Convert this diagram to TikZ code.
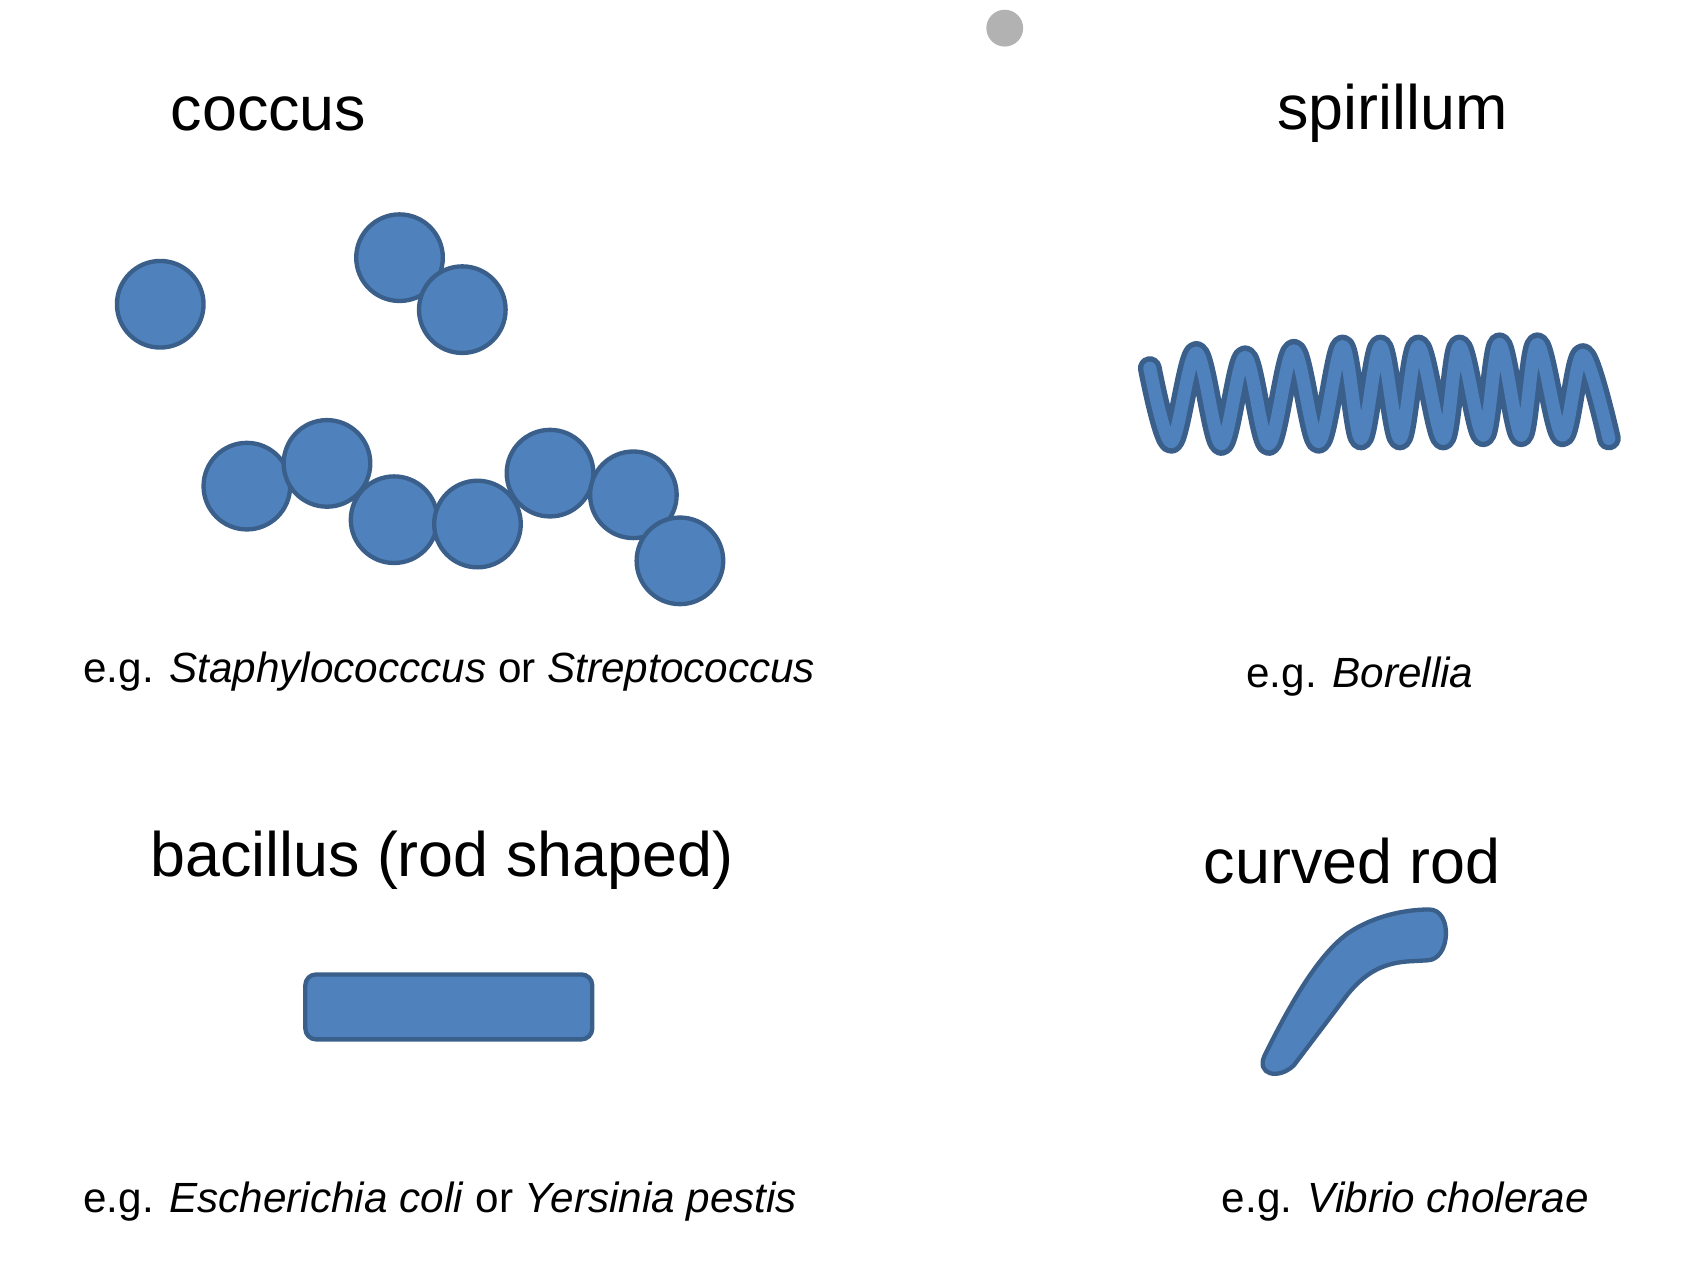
\documentclass[tikz,border=0pt]{standalone}
\usepackage{fontspec}
\setmainfont{Liberation Sans}
\definecolor{cfill}{HTML}{4F81BD}
\definecolor{cline}{HTML}{3A5F8B}
\begin{document}
\begin{tikzpicture}[x=0.5pt,y=-0.5pt,
  cell/.style={circle,draw=cline,fill=cfill,line width=2pt,minimum size=40pt,inner sep=0pt},
  title/.style={font=\fontsize{29}{34}\selectfont},
  captext/.style={font=\fontsize{19.5}{24}\selectfont},
  body/.style={draw=cline,fill=cfill,line width=2pt,line join=round}]
\useasboundingbox (0,0) rectangle (1560,1189);
\fill[gray!60] (928,26) circle (17);
\node[title] (t1) at (248,105) {coccus};
\node[title] (t2) at (1286,105) {spirillum};
\node[title] (t3) at (408,795) {bacillus (rod shaped)};
\node[title] (t4) at (1249,795) {curved rod};
\node[captext,anchor=west] (c1) at (70,620) {e.g. \textit{Staphylococccus} or \textit{Streptococcus}};
\node[captext] (c2) at (1256,625) {e.g. \textit{Borellia}};
\node[captext,anchor=west] (c3) at (70,1110) {e.g. \textit{Escherichia coli} or \textit{Yersinia pestis}};
\node[captext] (c4) at (1298,1110) {e.g. \textit{Vibrio cholerae}};
\foreach \p [count=\i] in {(148,281),(369,238),(427,286),(228,449),(302,428),(364,480),(441,484),(508,437),(585,457),(628,518)}
  \node[cell] (k\i) at \p {};
\draw[body,rounded corners=5pt] (282,900) rectangle (547,960);
\draw[body] (1168,975) .. controls (1195,920) and (1220,880) .. (1245,862) .. controls (1270,845) and (1300,840) .. (1320,840) .. controls (1342,840) and (1340,887) .. (1318,887) -- (1300,888) .. controls (1275,890) and (1260,900) .. (1245,918) -- (1195,984) .. controls (1180,998) and (1160,992) .. (1168,975) -- cycle;
\def\spir{plot[smooth,tension=0.55] coordinates {(1062,340)(1082,408)(1105,326)(1128,410)(1150,330)(1172,410)(1195,324)(1218,408)(1240,320)(1257,405)(1275,320)(1293,405)(1310,320)(1333,405)(1348,320)(1370,402)(1385,318)(1405,402)(1420,318)(1443,402)(1462,328)(1486,405)}}
\draw[cline,line width=11pt,line cap=round,line join=round] \spir;
\draw[cfill,line width=6pt,line cap=round,line join=round] \spir;
\end{tikzpicture}
\end{document}
